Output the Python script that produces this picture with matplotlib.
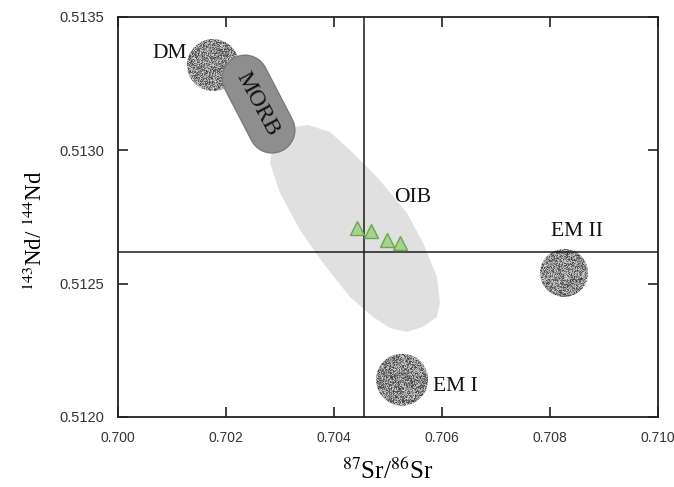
import matplotlib
matplotlib.use("Agg")
import matplotlib.pyplot as plt
import numpy as np
from matplotlib.patches import Ellipse, Polygon

plt.rcParams["mathtext.fontset"] = "stix"

# mantle end-members (circles): 87Sr/86Sr, 143Nd/144Nd
reservoirs = ["DM", "EM I", "EM II"]
res_sr = [0.70176, 0.70526, 0.70826]
res_nd = [0.51332, 0.51214, 0.51254]

# MORB field drawn as a capsule between two points
morb_sr = [0.702352, 0.702852]
morb_nd = [0.513271, 0.513076]

# OIB field outline
oib_sr = [0.703519, 0.703926, 0.704296, 0.704796, 0.705352, 0.705648, 0.705907,
          0.705963, 0.705907, 0.705648, 0.705352, 0.705037, 0.704722, 0.704296,
          0.703796, 0.703370, 0.703000, 0.702815, 0.702852, 0.703056, 0.703278]
oib_nd = [0.513095, 0.513069, 0.513001, 0.512900, 0.512765, 0.512653, 0.512525,
          0.512428, 0.512375, 0.512338, 0.512319, 0.512334, 0.512375, 0.512450,
          0.512578, 0.512701, 0.512840, 0.512953, 0.513001, 0.513065, 0.513088]

# samples
sample_sr = [0.70443, 0.70469, 0.70498, 0.70522]
sample_nd = [0.512709, 0.512698, 0.512664, 0.512653]

# reference lines
bse_sr = 0.70455
bse_nd = 0.512619

labels = ["DM", "MORB", "OIB", "EM I", "EM II"]
label_sr = [0.70128, 0.70259, 0.70545, 0.70583, 0.70850]
label_nd = [0.513365, 0.513172, 0.512822, 0.512116, 0.512695]

x_ticks = [0.700, 0.702, 0.704, 0.706, 0.708, 0.710]
y_ticks = [0.5120, 0.5125, 0.5130, 0.5135]

circle_r_px = [26, 26, 24]

W, H = 674, 487
fig = plt.figure(figsize=(W / 100, H / 100), dpi=100)
ax = fig.add_axes([118 / W, 70 / H, 540 / W, 400 / H])
ax.set_xlim(0.700, 0.710)
ax.set_ylim(0.5120, 0.5135)

px_x = 540 / 0.010
px_y = 400 / 0.0015

ax.add_patch(Polygon(list(zip(oib_sr, oib_nd)), closed=True, facecolor="#e0e0e0",
                     edgecolor="none", zorder=1))

# speckled circles (noise texture clipped to each circle)
rng = np.random.default_rng(7)
for sr, nd, r in zip(res_sr, res_nd, circle_r_px):
    w = 2 * r / px_x
    h = 2 * r / px_y
    ell = Ellipse((sr, nd), w, h, facecolor="none", edgecolor="none", zorder=2)
    ax.add_patch(ell)
    tex = 0.25 + 0.58 * rng.random((2 * r, 2 * r))
    im = ax.imshow(tex, cmap="gray", vmin=0, vmax=1, interpolation="nearest",
                   extent=(sr - w / 2, sr + w / 2, nd - h / 2, nd + h / 2),
                   aspect="auto", zorder=2)
    im.set_clip_path(ell)

ax.plot(morb_sr, morb_nd, color="#7a7a7a", lw=34, solid_capstyle="round", zorder=3)
ax.plot(morb_sr, morb_nd, color="#8e8e8e", lw=32, solid_capstyle="round", zorder=3)

ax.axvline(bse_sr, color="#1a1a1a", lw=1.1, zorder=4)
ax.axhline(bse_nd, color="#1a1a1a", lw=1.1, zorder=4)

ax.plot(sample_sr, sample_nd, "^", ms=10, mfc="#a9d18e", mec="#6aa84f", mew=1,
        ls="none", zorder=5)

serif = "Liberation Serif"
ha = ["right", "center", "center", "left", "center"]
rot = [0, -62, 0, 0, 0]
sizes = [15.5, 17, 15.5, 15.5, 15.5]
for t, sr, nd, a, r, fs in zip(labels, label_sr, label_nd, ha, rot, sizes):
    ax.text(sr, nd, t, ha=a, va="center", rotation=r, rotation_mode="anchor",
            fontsize=fs, family=serif, color="#111111", zorder=6)

ax.set_xticks(x_ticks)
ax.set_yticks(y_ticks)
ax.set_xticklabels([f"{v:.3f}" for v in x_ticks], fontsize=10)
ax.set_yticklabels([f"{v:.4f}" for v in y_ticks], fontsize=10.5)
ax.tick_params(direction="in", length=7, width=1.2, top=True, right=True,
               pad=10, colors="#222222", labelcolor="#333333")
for lab in ax.get_xticklabels() + ax.get_yticklabels():
    lab.set_family("Liberation Sans")
for s in ax.spines.values():
    s.set_linewidth(1.3)
    s.set_color("#222222")

ax.set_xlabel(r"$^{87}$Sr/$^{86}$Sr", fontsize=18, family=serif, labelpad=10)
ax.set_ylabel(r"$^{143}$Nd/ $^{144}$Nd", fontsize=16.5, family=serif)
ax.yaxis.set_label_coords(-0.131, 0.465)

fig.savefig("out.png", dpi=100)
